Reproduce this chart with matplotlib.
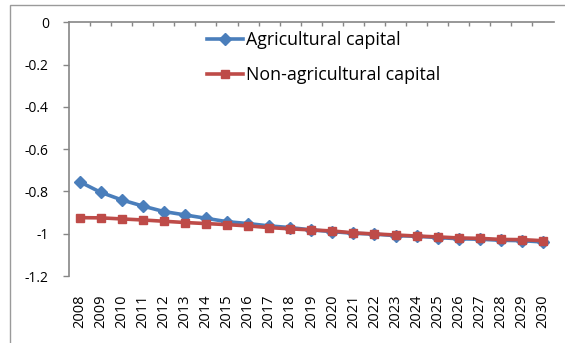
import matplotlib
matplotlib.use("Agg")
import matplotlib.pyplot as plt
from matplotlib.patches import Rectangle
from matplotlib.ticker import FixedLocator, FuncFormatter

years = list(range(2008, 2031))
agricultural = [-0.754, -0.804, -0.840, -0.869, -0.895, -0.911, -0.927, -0.943,
                -0.952, -0.963, -0.971, -0.982, -0.990, -0.998, -1.002, -1.009,
                -1.012, -1.018, -1.024, -1.026, -1.031, -1.033, -1.039]
non_agricultural = [-0.924, -0.925, -0.930, -0.935, -0.941, -0.947, -0.952, -0.957,
                    -0.963, -0.971, -0.977, -0.982, -0.987, -0.996, -1.001, -1.006,
                    -1.011, -1.015, -1.020, -1.022, -1.027, -1.028, -1.033]
y_ticks = [0, -0.2, -0.4, -0.6, -0.8, -1.0, -1.2]

W, H = 565, 343
fig = plt.figure(figsize=(W / 100, H / 100), dpi=100)
plt.rcParams['font.family'] = ['Open Sans', 'DejaVu Sans']

# chart-area frame
fig.patches.append(Rectangle((10 / W, -0.1), 1.2, 1 - 5 / H + 0.1,
                             transform=fig.transFigure, fill=False,
                             edgecolor='#9a9a9a', linewidth=1.0))

ax_top, ax_bottom, ax_left, ax_right = 22.3, 276, 69, 553.5
ax = fig.add_axes([ax_left / W, 1 - ax_bottom / H,
                   (ax_right - ax_left) / W, (ax_bottom - ax_top) / H])

x = list(range(len(years)))
ax.plot(x, agricultural, color='#4A7EBB', linewidth=2.6, marker='D',
        markersize=6, label='Agricultural capital', zorder=3)
ax.plot(x, non_agricultural, color='#BE4B48', linewidth=2.6, marker='s',
        markersize=5.5, label='Non-agricultural capital', zorder=4)

ax.set_xlim(-0.5, len(years) - 0.5)
ax.set_ylim(-1.2, 0)

ax.yaxis.set_major_locator(FixedLocator(y_ticks))
ax.yaxis.set_major_formatter(FuncFormatter(lambda v, p: f"{v:g}" if abs(v) > 1e-9 else "0"))
ax.tick_params(axis='y', direction='out', length=4.5, width=1, color='#868686',
               labelsize=10, pad=10)

ax.set_xticks(x)
ax.set_xticklabels([str(y) for y in years], rotation=90, fontsize=10.5)
ax.tick_params(axis='x', which='major', length=0, pad=13)
ax.set_xticks([i - 0.5 for i in range(1, len(years))], minor=True)
ax.tick_params(axis='x', which='minor', top=True, bottom=False, direction='in',
               length=3, width=1, color='#868686')

for side in ('right', 'bottom'):
    ax.spines[side].set_visible(False)
for side in ('left', 'top'):
    ax.spines[side].set_color('#868686')
    ax.spines[side].set_linewidth(1.2)

leg = ax.legend(loc='upper left',
                bbox_to_anchor=((207 - ax_left) / (ax_right - ax_left),
                                (ax_bottom - 31) / (ax_bottom - ax_top)),
                frameon=False, fontsize=12.8, handlelength=2.0, handletextpad=0.22,
                labelspacing=0.95, borderaxespad=0, borderpad=0)

fig.savefig("out.png", dpi=100)
